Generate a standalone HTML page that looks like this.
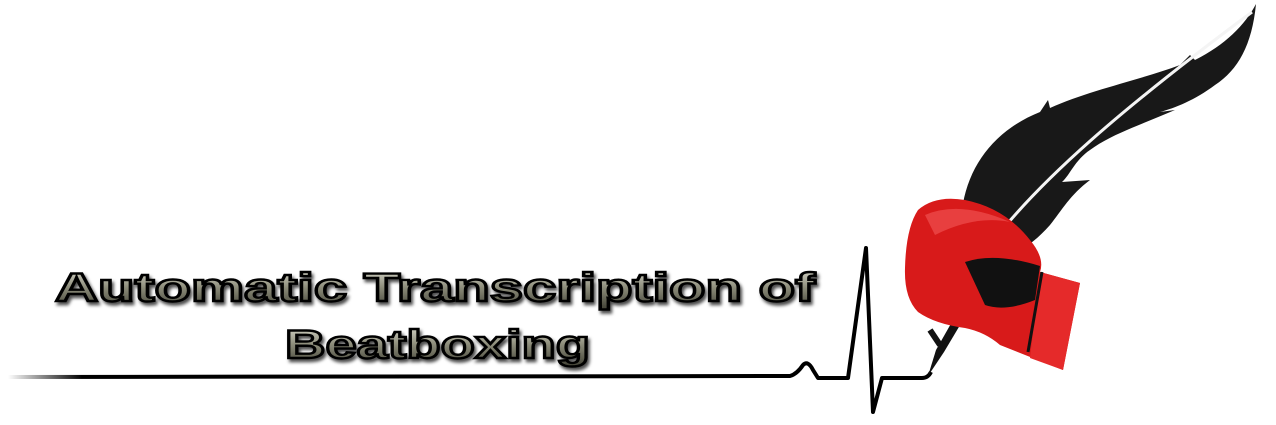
<!DOCTYPE html>
<html><head><meta charset="utf-8"><style>
html,body{margin:0;padding:0;background:#fff;}
svg{display:block;}
</style></head><body>
<svg width="1276" height="425" viewBox="0 0 1276 425" xmlns="http://www.w3.org/2000/svg">
<defs>
<linearGradient id="fade" x1="0" x2="1" y1="0" y2="0">
<stop offset="0" stop-color="#000" stop-opacity="0"/>
<stop offset="0.08" stop-color="#000" stop-opacity="1"/>
</linearGradient>
<linearGradient id="metal" x1="0" x2="0" y1="0" y2="1">
<stop offset="0" stop-color="#e0e0d4"/>
<stop offset="0.5" stop-color="#8a8a78"/>
<stop offset="1" stop-color="#3e3e32"/>
</linearGradient>
<filter id="sh" x="-5%" y="-20%" width="110%" height="150%">
<feDropShadow dx="2" dy="3" stdDeviation="1.5" flood-color="#000" flood-opacity="0.7"/>
</filter>
</defs>
<!-- baseline + heartbeat -->
<path d="M8 377 L790 376 Q797 374 803 365 Q808 360 813 370 L818 378 L848 378 L866 248 L873 412 L882 378 L922 378 Q928 378 931 372" fill="none" stroke="url(#fade)" stroke-width="4" stroke-linejoin="round"/>
<!-- quill -->
<path d="M928 376 L936 350 L990 255 L1000 258 L944 352 Z" fill="#111"/>
<!-- feather -->
<path d="M962 210 C968 165 995 130 1040 112 L1048 100 L1050 108 C1090 90 1140 80 1180 65 L1190 55 L1195 60 C1225 45 1245 25 1256 4 C1252 45 1238 70 1215 85 C1195 100 1175 108 1160 112 L1175 110 C1140 125 1110 135 1090 150 C1075 160 1070 175 1062 182 L1090 180 C1070 195 1062 210 1050 225 C1035 242 1020 252 1005 258 L985 250 C975 235 965 225 962 210 Z" fill="#181818"/>
<path d="M990 245 C1040 180 1120 110 1252 12" fill="none" stroke="#f4f4f4" stroke-width="3"/>
<!-- glove -->
<path d="M918 210 Q935 195 965 200 Q1005 208 1030 240 Q1045 258 1040 272 L1080 283 L1063 370 L1000 345 Q985 332 965 328 Q935 324 918 312 Q904 298 905 268 Q906 228 918 210 Z" fill="#d81a1a"/>
<path d="M1040 272 L1080 283 L1063 370 L1030 358 Z" fill="#e52a2a"/>
<path d="M1042 272 L1028 352" stroke="#111" stroke-width="3"/>
<path d="M965 262 Q995 252 1040 266 L1035 300 Q1005 312 985 305 Z" fill="#111"/>
<path d="M925 215 Q960 200 1010 222 Q975 215 935 235 Z" fill="#f05050" opacity="0.7"/>
<path d="M930 330 L940 345" stroke="#111" stroke-width="6"/>
<!-- text -->
<g font-family="Liberation Sans, sans-serif" font-weight="bold" fill="url(#metal)" stroke="#000" stroke-width="2.4" filter="url(#sh)">
<text x="55" y="301" font-size="40" textLength="760" lengthAdjust="spacingAndGlyphs">Automatic Transcription of</text>
<text x="285" y="358" font-size="40" textLength="305" lengthAdjust="spacingAndGlyphs">Beatboxing</text>
</g>
</svg>
</body></html>
